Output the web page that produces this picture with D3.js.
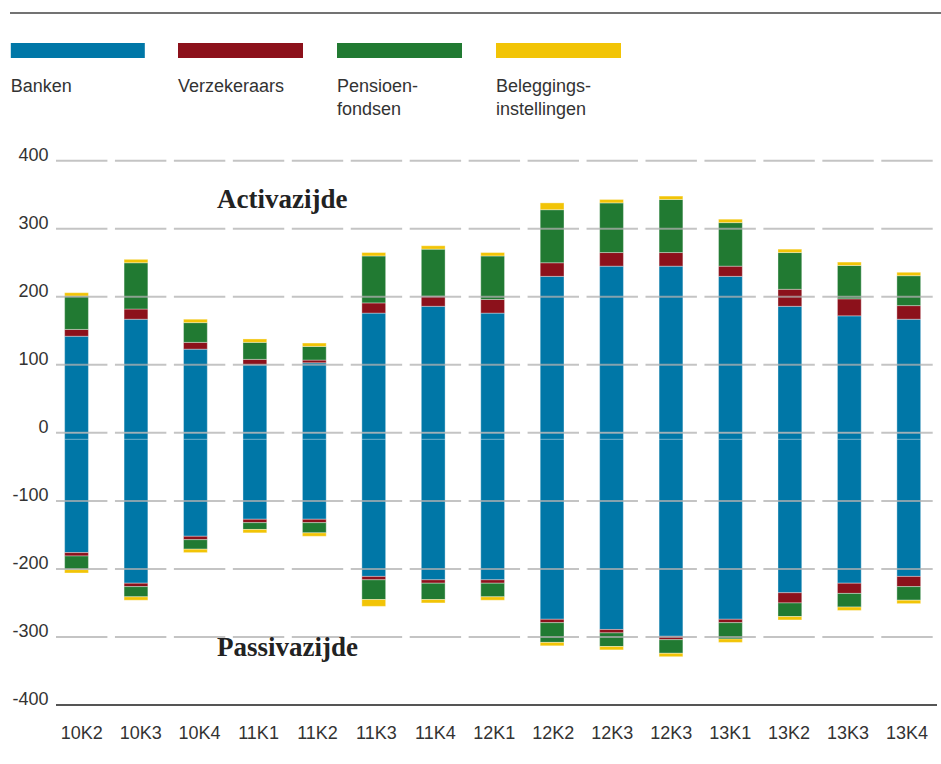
<!DOCTYPE html>
<html>
<head>
<meta charset="utf-8">
<script src="https://cdn.jsdelivr.net/npm/d3@7"></script>
<style>
  html, body { margin: 0; padding: 0; background: #fff; }
  svg { display: block; }
  .lbl { font-family: "Liberation Sans", Arial, sans-serif; font-size: 18px; fill: #333; }
  .side { font-family: "Liberation Serif", "Times New Roman", serif; font-weight: bold; font-size: 27px; fill: #222; }
</style>
</head>
<body>
<div id="chart"></div>
<script>
const quarters = ['10K2', '10K3', '10K4', '11K1', '11K2', '11K3', '11K4', '12K1', '12K2', '12K3', '12K3', '13K1', '13K2', '13K3', '13K4']

// activazijde (positive)
const bankenA = [142, 167, 123, 100, 103, 176, 186, 176, 230, 245, 245, 230, 186, 172, 167]
const verzA = [10, 15, 10, 8, 4, 15, 15, 20, 20, 20, 20, 15, 25, 25, 20]
const pensA = [49, 68, 29, 25, 20, 69, 69, 64, 78, 73, 78, 64, 54, 49, 44]
const belegA = [5, 5, 5, 5, 5, 5, 5, 5, 10, 5, 5, 5, 5, 5, 5]

// passivazijde (negative)
const bankenP = [-176, -221, -152, -127, -127, -211, -216, -216, -274, -289, -299, -274, -235, -221, -211]
const verzP = [-5, -5, -5, -5, -5, -5, -5, -5, -5, -5, -5, -5, -15, -15, -15]
const pensP = [-20, -15, -14, -10, -15, -29, -24, -20, -29, -20, -20, -24, -20, -20, -20]
const belegP = [-5, -5, -5, -5, -5, -10, -5, -5, -5, -5, -5, -5, -5, -5, -5]

const seriesNames = [['Banken'], ['Verzekeraars'], ['Pensioen-', 'fondsen'], ['Beleggings-', 'instellingen']]
const colors = ['#0077a7', '#8c111b', '#217a32', '#f2c406']
const yTicks = [400, 300, 200, 100, 0, -100, -200, -300, -400]

const width = 941
const height = 764

const svg = d3.select('#chart').append('svg')
  .attr('width', width)
  .attr('height', height)

// top rule
svg.append('line')
  .attr('x1', 10).attr('x2', width)
  .attr('y1', 13).attr('y2', 13)
  .attr('stroke', '#444').attr('stroke-width', 1.5)

// legend
const legendX = [10.8, 178, 337, 496]
const legendW = [134, 125, 125, 125]
const legend = svg.append('g')
seriesNames.forEach((name, i) => {
  legend.append('rect')
    .attr('x', legendX[i]).attr('y', 43)
    .attr('width', legendW[i]).attr('height', 15)
    .attr('fill', colors[i])
  const t = legend.append('text')
    .attr('class', 'lbl')
    .attr('x', legendX[i]).attr('y', 92)
  name.forEach((line, j) => {
    t.append('tspan')
      .attr('x', legendX[i])
      .attr('dy', j === 0 ? 0 : 22.6)
      .text(line)
  })
})

const idx = d3.range(quarters.length)

const y = d3.scaleLinear().domain([-400, 400]).range([705, 160.7])

// bars and grid segments use slightly different bands, as in the original
const xBar = d3.scaleBand().domain(idx).range([46.8, 938.5]).paddingInner(0.6).paddingOuter(0.3)
const xSeg = d3.scaleBand().domain(idx).range([56, 932.7]).paddingInner(0.128).paddingOuter(0)

const keys = ['bA', 'vA', 'pA', 'lA', 'bP', 'vP', 'pP', 'lP']
const rows = idx.map(i => ({
  bA: bankenA[i], vA: verzA[i], pA: pensA[i], lA: belegA[i],
  bP: bankenP[i], vP: verzP[i], pP: pensP[i], lP: belegP[i]
}))

const stacked = d3.stack().keys(keys).offset(d3.stackOffsetDiverging)(rows)

const bars = svg.append('g')
stacked.forEach((s, k) => {
  bars.append('g')
    .attr('fill', colors[k % 4])
    .selectAll('rect')
    .data(s)
    .join('rect')
    .attr('x', (d, i) => xBar(i))
    .attr('width', xBar.bandwidth())
    .attr('y', d => y(Math.max(d[0], d[1])))
    .attr('height', d => Math.abs(y(d[0]) - y(d[1])))
    .attr('stroke', 'rgba(255,255,255,0.35)')
    .attr('stroke-width', 1)
})

// faint line just below zero inside the bars
bars.append('g')
  .selectAll('line')
  .data(idx)
  .join('line')
  .attr('x1', i => xBar(i)).attr('x2', i => xBar(i) + xBar.bandwidth())
  .attr('y1', y(-9.6)).attr('y2', y(-9.6))
  .attr('stroke', 'rgba(255,255,255,0.35)').attr('stroke-width', 1.2)

// grid segments drawn over the bars
const grid = svg.append('g')
yTicks.filter(t => t !== -400).forEach(t => {
  grid.append('g')
    .selectAll('line')
    .data(idx)
    .join('line')
    .attr('x1', i => xSeg(i)).attr('x2', i => xSeg(i) + xSeg.bandwidth())
    .attr('y1', y(t)).attr('y2', y(t))
    .attr('stroke', '#b0b0b0')
    .attr('stroke-opacity', 0.75)
    .attr('stroke-width', 2)
})

// bottom axis line
svg.append('line')
  .attr('x1', 56).attr('x2', 937)
  .attr('y1', y(-400)).attr('y2', y(-400))
  .attr('stroke', '#555').attr('stroke-width', 2)

// y tick labels
svg.append('g')
  .selectAll('text')
  .data(yTicks)
  .join('text')
  .attr('class', 'lbl')
  .attr('text-anchor', 'end')
  .attr('x', 48.5)
  .attr('y', d => y(d))
  .text(d => d)

// x labels
svg.append('g')
  .selectAll('text')
  .data(idx)
  .join('text')
  .attr('class', 'lbl')
  .attr('text-anchor', 'middle')
  .attr('x', i => xSeg(i) + xSeg.bandwidth() / 2)
  .attr('y', 739)
  .text(i => quarters[i])

// side labels
svg.append('text').attr('class', 'side').attr('x', 217).attr('y', 208).text('Activazijde')
svg.append('text').attr('class', 'side').attr('x', 217).attr('y', 656).text('Passivazijde')
</script>
</body>
</html>
